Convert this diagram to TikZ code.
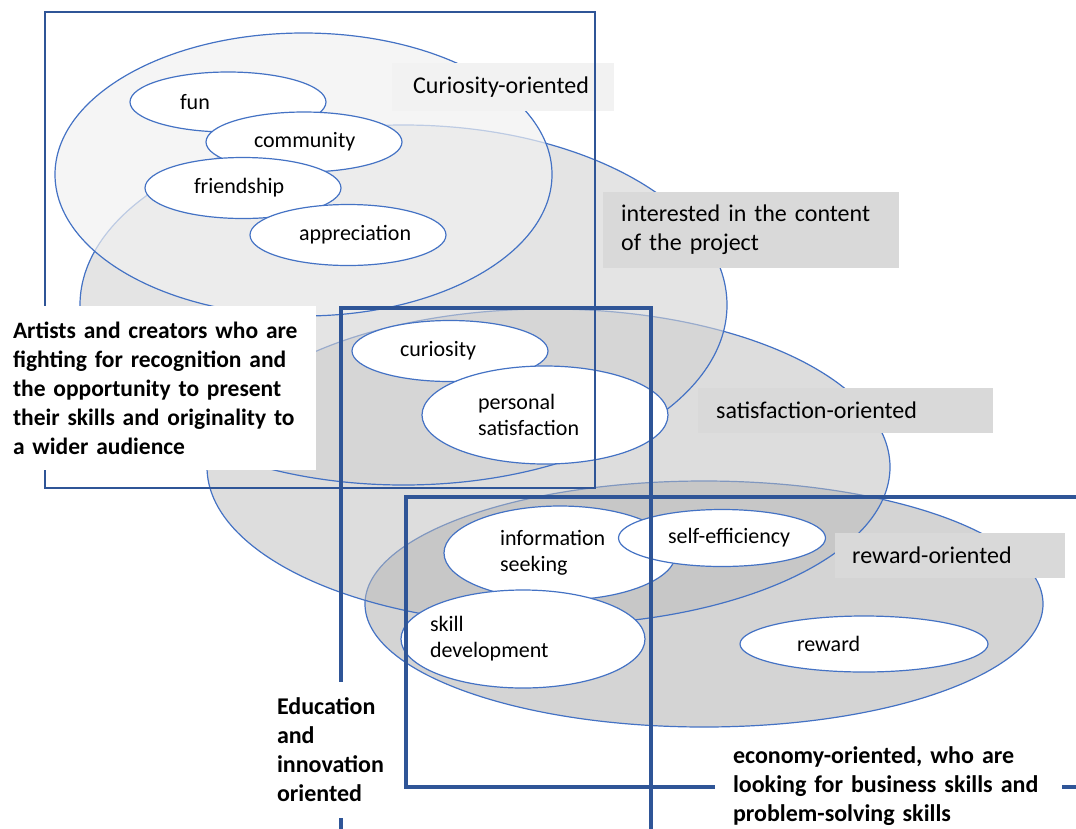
\documentclass[tikz,border=0pt]{standalone}
\usepackage{fontspec}
\setmainfont{Carlito}
\usetikzlibrary{shapes.geometric}
\definecolor{frameblue}{HTML}{2F5597}
\definecolor{ringblue}{HTML}{4472C4}
\definecolor{tagfill}{HTML}{D9D9D9}
\definecolor{tagpale}{HTML}{F2F2F2}
\definecolor{rewardgray}{HTML}{D4D4D4}
\definecolor{satgray}{HTML}{BCBCBC}
\definecolor{intgray}{HTML}{D2D2D2}
\definecolor{curgray}{HTML}{F1F1F1}
\newcommand{\tagfont}{\fontsize{24pt}{29pt}\selectfont}
\newcommand{\itemfont}{\fontsize{22pt}{26pt}\selectfont}
\tikzset{
  group/.style={ellipse, draw=ringblue, line width=1.2pt, inner sep=0pt},
  item/.style={ellipse, draw=ringblue, line width=1.2pt, fill=white, inner sep=0pt, align=left, font=\itemfont},
  tag/.style={fill=tagfill, anchor=west, inner xsep=18pt, inner ysep=0pt, align=left, font=\tagfont},
  frame/.style={draw=frameblue, inner sep=0pt},
  note/.style={fill=white, inner ysep=0pt, align=left, font=\tagfont\bfseries}
}
\begin{document}
\begin{tikzpicture}[x=1pt, y=-1pt]
  \useasboundingbox (0,0) rectangle (1076,828);
  \clip (0,0) rectangle (1076,828);

  \node[group, fill=rewardgray, minimum width=678pt, minimum height=246pt] (rewardzone) at (704,604) {};
  \node[group, fill=satgray, fill opacity=0.5, minimum width=683pt, minimum height=316pt] (satisfyzone) at (548.5,467) {};
  \node[group, fill=intgray, fill opacity=0.6, minimum width=647pt, minimum height=360pt] (interestzone) at (403.5,305) {};
  \node[group, fill=curgray, fill opacity=0.7, minimum width=497pt, minimum height=283pt] (curiosityzone) at (303.5,174.5) {};

  \node[item, minimum width=196pt, minimum height=60pt, text width=96pt] (fun) at (228,102) {fun};
  \node[item, minimum width=196pt, minimum height=60pt, text width=100pt] (community) at (304,142) {community};
  \node[item, minimum width=196pt, minimum height=61pt, text width=98pt] (friendship) at (243,188) {friendship};
  \node[item, minimum width=196pt, minimum height=61pt, text width=98pt] (appreciation) at (348,235) {appreciation};
  \node[item, minimum width=196pt, minimum height=61pt, text width=100pt] (curiosity) at (450,351) {curiosity};
  \node[item, minimum width=246pt, minimum height=98pt, text width=134pt] (personal) at (545,415) {personal\\satisfaction};
  \node[item, minimum width=232pt, minimum height=94pt, text width=120pt] (infoseek) at (560,553) {information\\seeking};
  \node[item, minimum width=207pt, minimum height=57pt, text width=108pt] (selfeff) at (722,538) {\mbox{self-efficiency}};
  \node[item, minimum width=244pt, minimum height=98pt, text width=186pt, inner xsep=-30pt] (skilldev) at (523,639) {skill\\development};
  \node[item, minimum width=248pt, minimum height=56pt, text width=134pt] (reward) at (864,644) {reward};

  \node[tag, fill=tagpale, inner xsep=21pt, text width=180pt, minimum height=48pt] (curiositytag) at (392,87) {Curiosity-oriented};
  \node[tag, text width=260pt, minimum height=76pt] (interesttag) at (603,230) {interested in the content\\of the project};
  \node[tag, text width=259pt, minimum height=45pt] (satisfytag) at (698,410.5) {satisfaction-oriented};
  \node[tag, inner xsep=17pt, text width=196pt, minimum height=45pt] (rewardtag) at (835,555.5) {reward-oriented};

  \node[frame, line width=2.5pt, minimum width=550pt, minimum height=476pt] (artframe) at (320,250) {};
  \node[frame, line width=3.2pt, minimum width=310pt, minimum height=542pt] (eduframe) at (496,579) {};
  \node[frame, line width=4pt, minimum width=694pt, minimum height=290pt] (ecoframe) at (753,642) {};

  \node[note, inner xsep=13pt, text width=290pt, minimum height=164pt, font=\fontsize{23.5pt}{29pt}\selectfont\bfseries] (artnote) at (158,388) {Artists and creators who are\\fighting for recognition and\\the opportunity to present\\their skills and originality to\\a wider audience};
  \node[note, inner xsep=9pt, text width=110pt, minimum height=136pt] (edunote) at (332,750) {Education\\and\\innovation\\oriented};
  \node[note, inner xsep=18pt, text width=311pt, minimum height=100pt] (econote) at (888.5,786) {economy-oriented, who are\\looking for business skills and\\problem-solving skills};
\end{tikzpicture}
\end{document}
